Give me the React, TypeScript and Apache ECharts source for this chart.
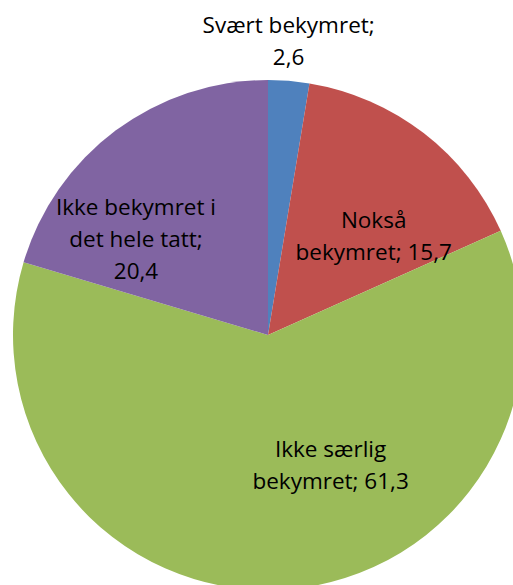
import React, { useEffect, useRef } from "react";
import * as echarts from "echarts";

const categories = ["Svært bekymret", "Nokså bekymret", "Ikke særlig bekymret", "Ikke bekymret i det hele tatt"];
const values = [2.6, 15.7, 61.3, 20.4];
const labelTexts = ["Svært bekymret;\n", "Nokså\nbekymret; ", "Ikke særlig\nbekymret; ", "Ikke bekymret i\ndet hele tatt;\n"];
const colors = ["#4F81BD", "#C0504D", "#9BBB59", "#8064A2"];
const labelOffsets: [number, number][] = [[10, -164], [26, 4], [54, -1], [-54, 8]];

export default function App() {
  const ref = useRef<HTMLDivElement>(null);
  useEffect(() => {
    if (!ref.current) return;
    const chart = echarts.init(ref.current, undefined, { renderer: "svg" });
    chart.setOption({
      animation: false,
      backgroundColor: "#ffffff",
      series: [
        {
          type: "pie",
          center: [268, 335],
          radius: [0, 255],
          startAngle: 90,
          clockwise: true,
          avoidLabelOverlap: false,
          label: {
            show: true,
            position: "inside",
            color: "#000000",
            fontFamily: "Open Sans",
            fontSize: 22.5,
            lineHeight: 32,
            align: "center",
            formatter: (p: any) => labelTexts[p.dataIndex] + values[p.dataIndex].toFixed(1).replace(".", ","),
          },
          labelLine: { show: false },
          itemStyle: { borderWidth: 0 },
          emphasis: { disabled: true },
          data: categories.map((name, i) => ({
            name,
            value: values[i],
            itemStyle: { color: colors[i] },
            label: { offset: labelOffsets[i] },
          })),
        },
      ],
    });
    return () => chart.dispose();
  }, []);
  return <div ref={ref} style={{ position: "absolute", left: 0, top: 0, width: 513, height: 585 }} />;
}
